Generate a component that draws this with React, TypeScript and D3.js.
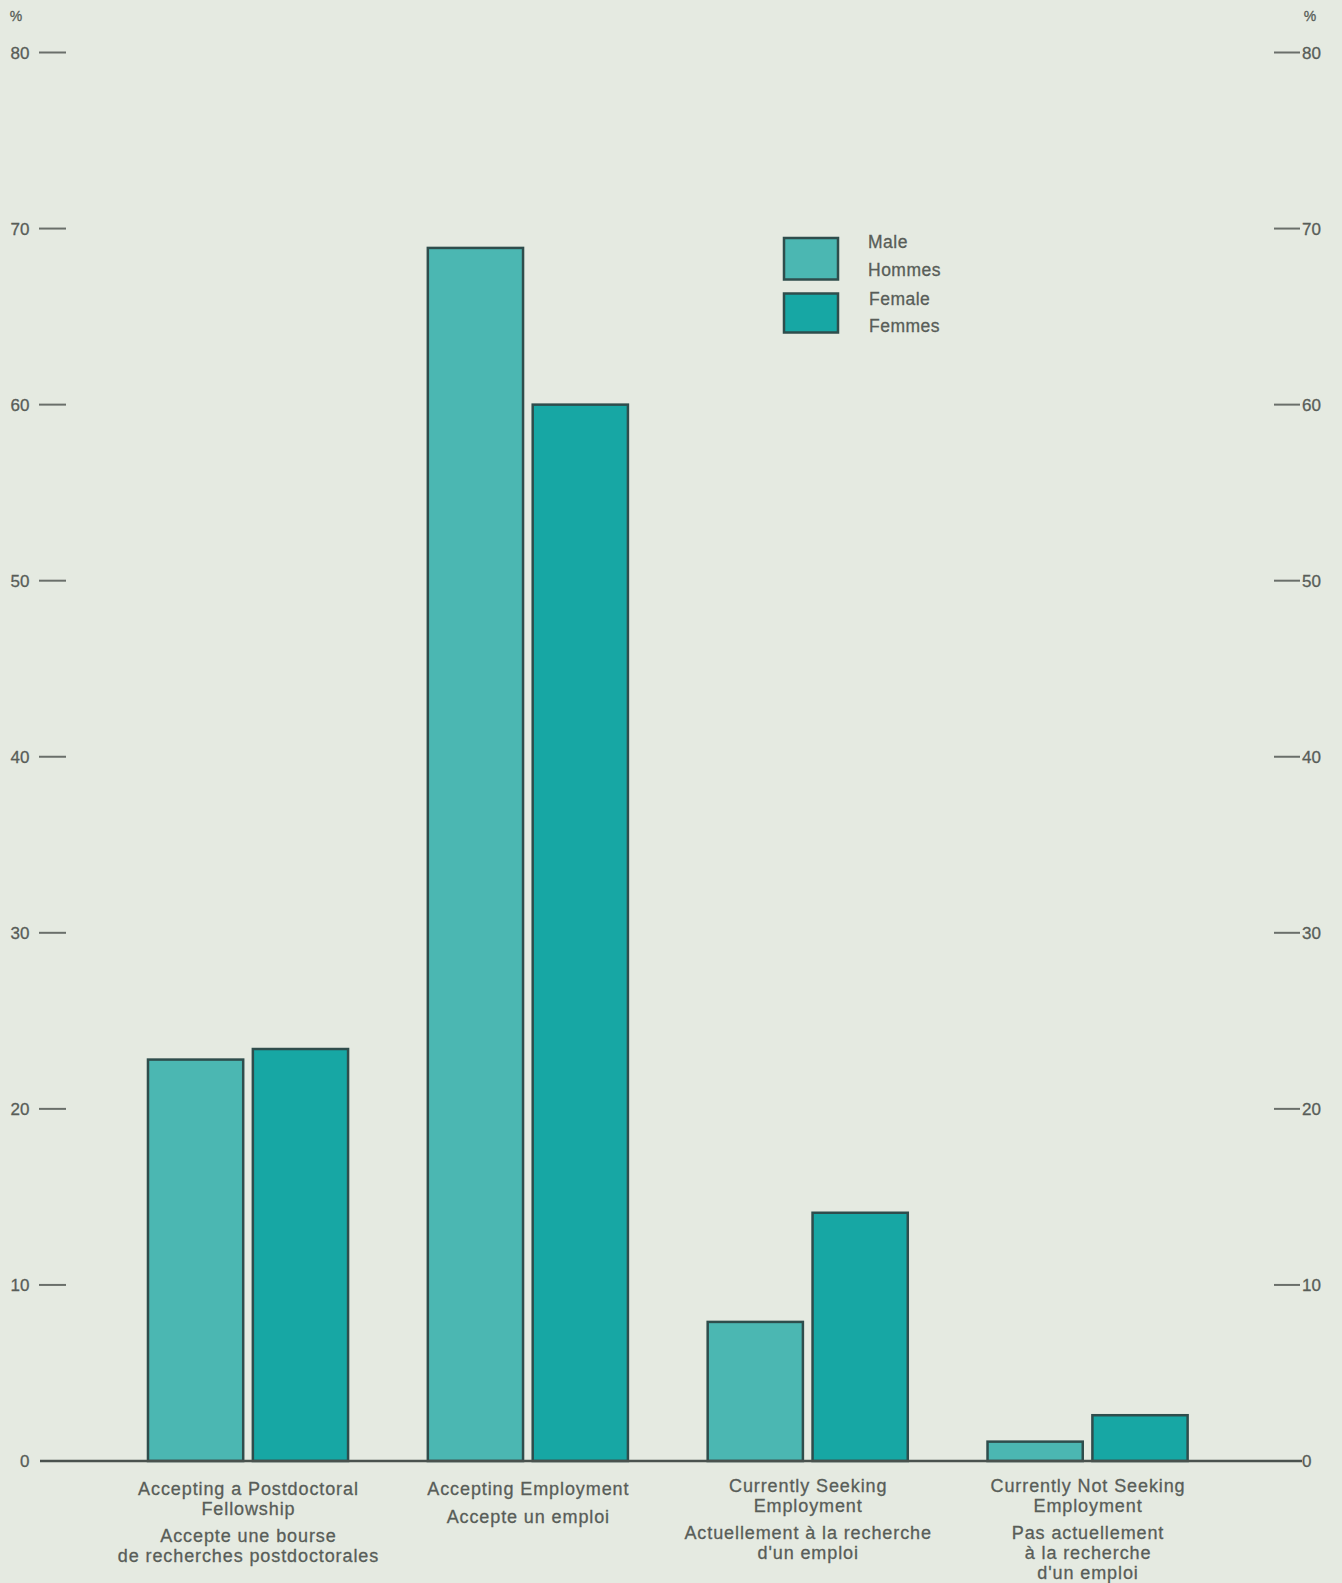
import React from "react";
import * as d3 from "d3";

const categories = ["postdoc", "employment", "seeking", "notSeeking"];
const categoryLabelsEn = [
  ["Accepting a Postdoctoral", "Fellowship"],
  ["Accepting Employment"],
  ["Currently Seeking", "Employment"],
  ["Currently Not Seeking", "Employment"],
];
const categoryLabelsFr = [
  ["Accepte une bourse", "de recherches postdoctorales"],
  ["Accepte un emploi"],
  ["Actuellement à la recherche", "d'un emploi"],
  ["Pas actuellement", "à la recherche", "d'un emploi"],
];
const series = ["male", "female"];
const seriesLabels = [
  ["Male", "Hommes"],
  ["Female", "Femmes"],
];
const maleValues = [22.8, 68.9, 7.9, 1.1];
const femaleValues = [23.4, 60.0, 14.1, 2.6];
const yTicks = [0, 10, 20, 30, 40, 50, 60, 70, 80];

const W = 1342;
const H = 1583;
const BG = "#e5eae1";
const MALE = "#4bb7b2";
const FEMALE = "#17a7a4";
const STROKE = "#2f4d4c";
const TEXT = "#585d58";
const FONT = "'Liberation Sans', Arial, sans-serif";

export default function App() {
  const y = d3.scaleLinear().domain([0, 80]).range([1461, 52.5]);
  const x = d3
    .scaleBand<string>()
    .domain(categories)
    .range([106, 1229.6])
    .paddingInner(0.285)
    .paddingOuter(0.15);
  const xs = d3
    .scaleBand<string>()
    .domain(series)
    .range([0, x.bandwidth()])
    .paddingInner(0.092);
  const values = [maleValues, femaleValues];
  const colors = [MALE, FEMALE];

  return (
    <svg
      width={W}
      height={H}
      style={{ position: "absolute", left: 0, top: 0, display: "block" }}
      fontFamily={FONT}
    >
      <rect x={0} y={0} width={W} height={H} fill={BG} />
      {/* percent signs */}
      <text x={16} y={21} fontSize={14} fill={TEXT} textAnchor="middle" stroke={TEXT} strokeWidth={0.3}>%</text>
      <text x={1310} y={21} fontSize={14} fill={TEXT} textAnchor="middle" stroke={TEXT} strokeWidth={0.3}>%</text>
      {/* y ticks */}
      {yTicks.map((t) => (
        <g key={t}>
          {t !== 0 && (
            <line x1={39} x2={66} y1={y(t)} y2={y(t)} stroke="#6a6f6a" strokeWidth={2} />
          )}
          <text x={29.5} y={y(t) + 6.3} fontSize={17} fill={TEXT} textAnchor="end" stroke={TEXT} strokeWidth={0.3}>{t}</text>
          {t !== 0 && (
            <line x1={1274} x2={1300} y1={y(t)} y2={y(t)} stroke="#6a6f6a" strokeWidth={2} />
          )}
          <text x={1302} y={y(t) + 6.3} fontSize={17} fill={TEXT} textAnchor="start" stroke={TEXT} strokeWidth={0.3}>{t}</text>
        </g>
      ))}
      {/* bars */}
      {categories.map((c, i) => (
        <g key={c} transform={`translate(${x(c)},0)`}>
          {series.map((s, j) => (
            <rect
              key={s}
              x={xs(s)}
              y={y(values[j][i])}
              width={xs.bandwidth()}
              height={y(0) - y(values[j][i])}
              fill={colors[j]}
              stroke={STROKE}
              strokeWidth={2.5}
            />
          ))}
        </g>
      ))}
      {/* baseline */}
      <line x1={40} x2={1302} y1={y(0)} y2={y(0)} stroke="#4a524e" strokeWidth={2.5} />
      {/* category labels */}
      {categories.map((c, i) => {
        const cx = (x(c) as number) + x.bandwidth() / 2;
        const en = categoryLabelsEn[i];
        const fr = categoryLabelsFr[i];
        const startEn = i < 2 ? 1495 : 1492;
        const lh = 19.8;
        const frStart = startEn + (en.length - 1) * lh + 27.5;
        return (
          <g
            key={c}
            fontSize={18}
            fill={TEXT}
            stroke={TEXT}
            strokeWidth={0.3}
            textAnchor="middle"
            letterSpacing={0.9}
          >
            {en.map((l, k) => (
              <text key={"en" + k} x={cx + 0.45} y={startEn + k * lh}>{l}</text>
            ))}
            {fr.map((l, k) => (
              <text key={"fr" + k} x={cx + 0.45} y={frStart + k * lh}>{l}</text>
            ))}
          </g>
        );
      })}
      {/* legend */}
      <g>
        <rect x={784} y={238} width={54} height={41.5} fill={colors[0]} stroke={STROKE} strokeWidth={2.5} />
        <rect x={784} y={293.5} width={54} height={39} fill={colors[1]} stroke={STROKE} strokeWidth={2.5} />
        <g fontSize={17.5} fill={TEXT} stroke={TEXT} strokeWidth={0.3} letterSpacing={0.5}>
          <text x={868} y={248.3}>{seriesLabels[0][0]}</text>
          <text x={868} y={275.7}>{seriesLabels[0][1]}</text>
          <text x={869} y={305}>{seriesLabels[1][0]}</text>
          <text x={869} y={332.3}>{seriesLabels[1][1]}</text>
        </g>
      </g>
    </svg>
  );
}
